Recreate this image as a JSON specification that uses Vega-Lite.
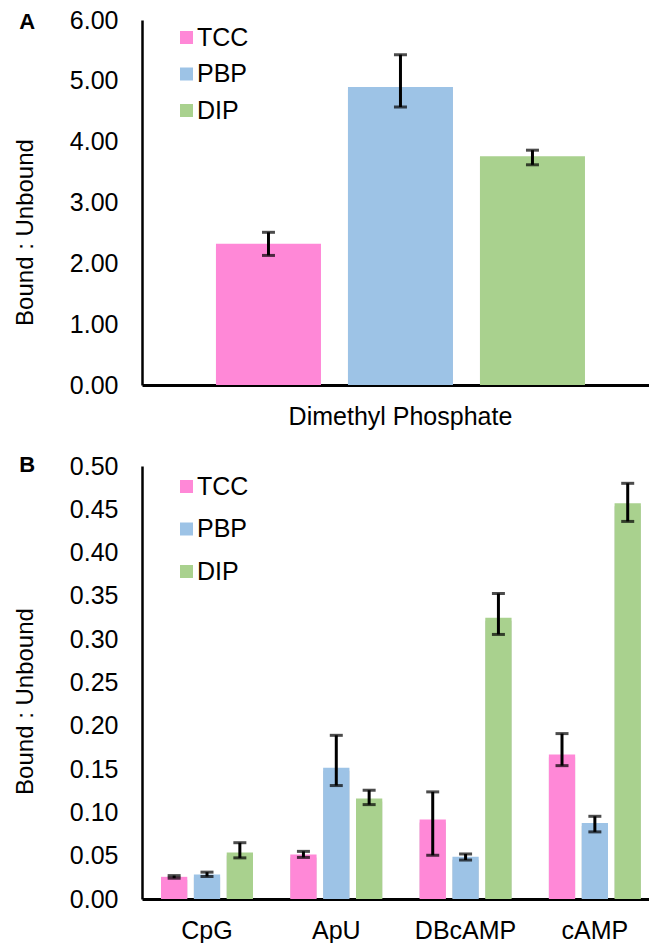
{
  "$schema": "https://vega.github.io/schema/vega-lite/v6.json",
  "background": "white",
  "padding": {"left": 13, "top": 8, "right": 0, "bottom": 0},
  "spacing": 25,
  "config": {
    "font": "Liberation Sans",
    "view": {"stroke": null},
    "axis": {"domainColor": "black", "domainWidth": 2.5, "ticks": false, "tickSize": 0, "grid": false, "labelFont": "Liberation Sans", "labelFontSize": 25, "labelColor": "black", "labelLimit": 400, "titleFont": "Liberation Sans", "titleFontSize": 24, "titleFontWeight": "normal", "titleColor": "black"},
    "legend": {"labelFont": "Liberation Sans", "labelFontSize": 25, "labelColor": "black", "symbolType": "square", "symbolSize": 169, "symbolStrokeWidth": 0, "symbolOpacity": 1, "labelOffset": -2, "padding": 0},
    "title": {"font": "Liberation Sans", "fontSize": 22, "fontWeight": "bold", "color": "black"}
  },
  "resolve": {"scale": {"color": "independent", "x": "independent", "y": "independent", "xOffset": "independent"}, "legend": {"color": "independent"}},
  "vconcat": [
    {
      "width": 507,
      "height": 365,
      "title": {"text": "A", "anchor": "start", "frame": "bounds", "baseline": "alphabetic", "offset": -43, "dx": 6},
      "data": {"values": [
        {"compound": "Dimethyl Phosphate", "protein": "TCC", "value": 2.32, "lo": 2.13, "hi": 2.51},
        {"compound": "Dimethyl Phosphate", "protein": "PBP", "value": 4.90, "lo": 4.57, "hi": 5.43},
        {"compound": "Dimethyl Phosphate", "protein": "DIP", "value": 3.76, "lo": 3.62, "hi": 3.86}
      ]},
      "encoding": {
        "x": {"field": "compound", "type": "nominal", "scale": {"paddingInner": 0, "paddingOuter": 0.187, "align": 0.536}, "axis": {"title": null, "labelAngle": 0, "labelPadding": 19, "domainWidth": 3}},
        "xOffset": {"field": "protein", "type": "nominal", "sort": ["TCC", "PBP", "DIP"], "scale": {"paddingInner": 0.2045, "paddingOuter": 0}}
      },
      "layer": [
        {
          "mark": {"type": "bar", "color": "#808080", "opacity": 0.4, "xOffset": 4, "yOffset": 3, "clip": true},
          "encoding": {"y": {"field": "value", "type": "quantitative"}}
        },
        {
          "mark": {"type": "bar"},
          "encoding": {
            "y": {"field": "value", "type": "quantitative", "scale": {"domain": [0, 6]}, "axis": {"values": [0, 1, 2, 3, 4, 5, 6], "format": ".2f", "labelPadding": 24, "title": "Bound : Unbound", "titlePadding": 32, "titleY": 212}},
            "color": {"field": "protein", "type": "nominal", "sort": ["TCC", "PBP", "DIP"], "scale": {"domain": ["TCC", "PBP", "DIP"], "range": ["#FF88D7", "#9DC3E6", "#A9D18E"]}, "legend": {"orient": "none", "legendX": 32, "legendY": 5, "title": null, "rowPadding": 10.5}}
          }
        },
        {
          "mark": {"type": "rule", "color": "black", "strokeWidth": 3},
          "encoding": {"y": {"field": "lo", "type": "quantitative"}, "y2": {"field": "hi"}}
        },
        {
          "mark": {"type": "tick", "color": "black", "thickness": 3, "size": 13},
          "encoding": {"y": {"field": "lo", "type": "quantitative"}}
        },
        {
          "mark": {"type": "tick", "color": "black", "thickness": 3, "size": 13},
          "encoding": {"y": {"field": "hi", "type": "quantitative"}}
        }
      ]
    },
    {
      "width": 507,
      "height": 433,
      "title": {"text": "B", "anchor": "start", "frame": "bounds", "baseline": "alphabetic", "offset": -40, "dx": 6},
      "data": {"values": [
        {"compound": "CpG", "protein": "TCC", "value": 0.0256, "lo": 0.024, "hi": 0.027},
        {"compound": "CpG", "protein": "PBP", "value": 0.0283, "lo": 0.026, "hi": 0.031},
        {"compound": "CpG", "protein": "DIP", "value": 0.0537, "lo": 0.0475, "hi": 0.065},
        {"compound": "ApU", "protein": "TCC", "value": 0.0513, "lo": 0.048, "hi": 0.055},
        {"compound": "ApU", "protein": "PBP", "value": 0.1517, "lo": 0.131, "hi": 0.189},
        {"compound": "ApU", "protein": "DIP", "value": 0.116, "lo": 0.109, "hi": 0.1256},
        {"compound": "DBcAMP", "protein": "TCC", "value": 0.0917, "lo": 0.0505, "hi": 0.1237},
        {"compound": "DBcAMP", "protein": "PBP", "value": 0.0487, "lo": 0.045, "hi": 0.052},
        {"compound": "DBcAMP", "protein": "DIP", "value": 0.3248, "lo": 0.3055, "hi": 0.3528},
        {"compound": "cAMP", "protein": "TCC", "value": 0.167, "lo": 0.154, "hi": 0.191},
        {"compound": "cAMP", "protein": "PBP", "value": 0.0879, "lo": 0.0775, "hi": 0.0955},
        {"compound": "cAMP", "protein": "DIP", "value": 0.457, "lo": 0.436, "hi": 0.48}
      ]},
      "encoding": {
        "x": {"field": "compound", "type": "nominal", "sort": ["CpG", "ApU", "DBcAMP", "cAMP"], "scale": {"paddingInner": 0.2885, "paddingOuter": 0.105, "align": 0.7}, "axis": {"title": null, "labelAngle": 0, "labelPadding": 19, "domainWidth": 3}},
        "xOffset": {"field": "protein", "type": "nominal", "sort": ["TCC", "PBP", "DIP"], "scale": {"paddingInner": 0.2, "paddingOuter": 0}}
      },
      "layer": [
        {
          "mark": {"type": "bar", "color": "#808080", "opacity": 0.4, "xOffset": 3, "yOffset": 3, "clip": true},
          "encoding": {"y": {"field": "value", "type": "quantitative"}}
        },
        {
          "mark": {"type": "bar"},
          "encoding": {
            "y": {"field": "value", "type": "quantitative", "scale": {"domain": [0, 0.5]}, "axis": {"values": [0, 0.05, 0.1, 0.15, 0.2, 0.25, 0.3, 0.35, 0.4, 0.45, 0.5], "format": ".2f", "labelPadding": 24, "title": "Bound : Unbound", "titlePadding": 32, "titleY": 235}},
            "color": {"field": "protein", "type": "nominal", "sort": ["TCC", "PBP", "DIP"], "scale": {"domain": ["TCC", "PBP", "DIP"], "range": ["#FF88D7", "#9DC3E6", "#A9D18E"]}, "legend": {"orient": "none", "legendX": 32, "legendY": 8, "title": null, "rowPadding": 16.5}}
          }
        },
        {
          "mark": {"type": "rule", "color": "black", "strokeWidth": 3},
          "encoding": {"y": {"field": "lo", "type": "quantitative"}, "y2": {"field": "hi"}}
        },
        {
          "mark": {"type": "tick", "color": "black", "thickness": 3, "size": 13},
          "encoding": {"y": {"field": "lo", "type": "quantitative"}}
        },
        {
          "mark": {"type": "tick", "color": "black", "thickness": 3, "size": 13},
          "encoding": {"y": {"field": "hi", "type": "quantitative"}}
        }
      ]
    }
  ]
}
